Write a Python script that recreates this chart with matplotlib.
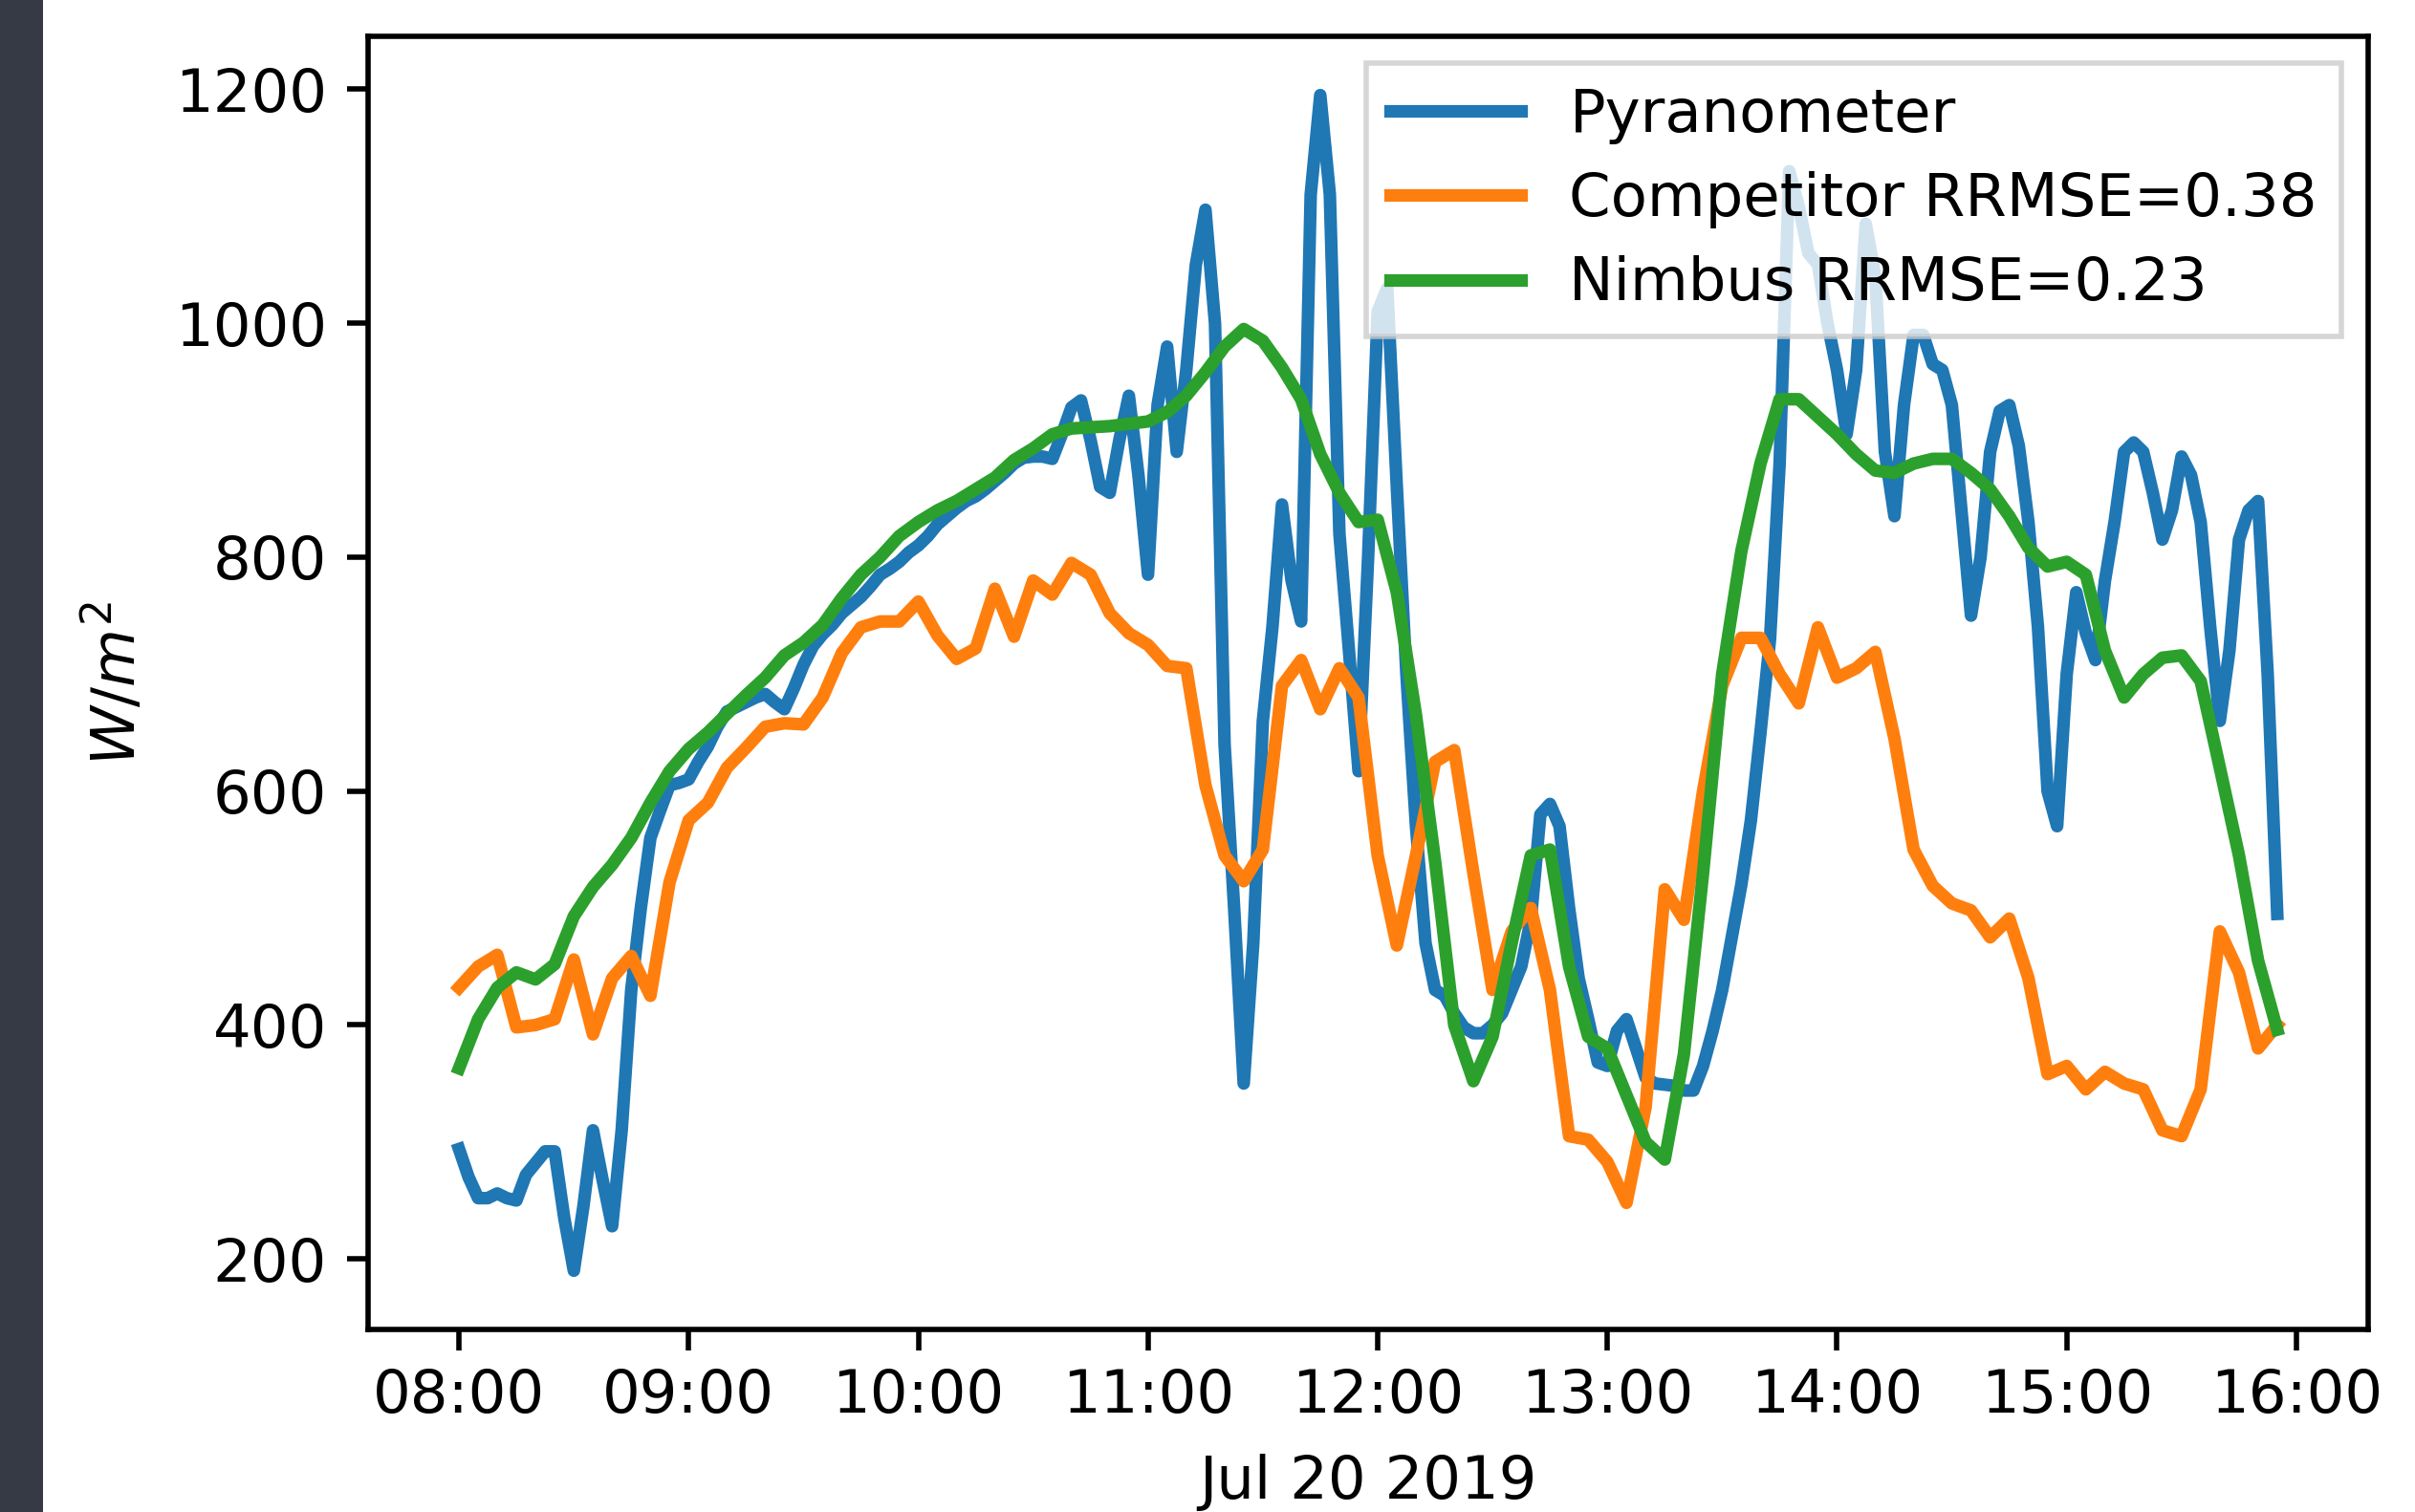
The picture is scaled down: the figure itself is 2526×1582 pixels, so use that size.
import matplotlib
matplotlib.use("Agg")
import matplotlib.pyplot as plt
import matplotlib.dates as mdates
from matplotlib.patches import Rectangle
import pandas as pd

# ---------------- data (W/m^2), Jul 20 2019, starting 08:00 ----------------
# Pyranometer: one reading every 2.5 minutes
pyranometer = [
    294, 270, 252, 252, 256, 252, 250, 272, 282, 292,
    292, 235, 190, 245, 310, 268, 228, 310, 430, 500,
    560, 583, 605, 607, 610, 625, 638, 655, 668, 672,
    676, 680, 683, 676, 670, 688, 708, 724, 734, 742,
    752, 759, 766, 775, 785, 790, 796, 804, 810, 818,
    828, 835, 842, 848, 852, 858, 865, 872, 880, 885,
    886, 886, 884, 905, 928, 934, 900, 860, 855, 900,
    938, 870, 785, 930, 980, 890, 960, 1050, 1097, 1000,
    640, 500, 350, 470, 660, 740, 845, 780, 745, 1110,
    1195, 1110, 820, 720, 617, 800, 1010, 1030, 860, 700,
    570, 470, 430, 425, 410, 398, 393, 393, 400, 410,
    430, 450, 490, 580, 589, 570, 500, 440, 405, 368,
    365, 395, 405, 380, 355, 350, 349, 348, 344, 344,
    365, 395, 430, 475, 520, 575, 650, 730, 880, 1130,
    1100, 1060, 1050, 1000, 960, 905, 960, 1085, 1040, 890,
    835, 930, 990, 990, 965, 960, 930, 840, 750, 800,
    890, 925, 930, 895, 830, 740, 600, 570, 700, 770,
    735, 712, 780, 830, 890, 898, 890, 855, 815, 840,
    886, 870, 830, 740, 660, 720, 815, 840, 848, 700,
    495,
]

# Model estimates: one value every 5 minutes
competitor = [
    432, 450, 460, 398, 400, 405, 456, 392, 440, 459,
    425, 522, 575, 590, 620, 637, 655, 658, 657, 680,
    718, 740, 745, 745, 762, 733, 713, 722, 773, 732,
    780, 768, 795, 785, 752, 735, 725, 707, 705, 605,
    545, 523, 550, 690, 712, 670, 705, 680, 545, 468,
    545, 625, 635, 530, 430, 480, 500, 430, 305, 302,
    283, 248, 330, 516, 490, 600, 690, 731, 731, 700,
    675, 740, 697, 705, 719, 645, 550, 519, 504, 498,
    475, 491, 440, 358, 365, 345, 360, 350, 345, 310,
    305, 345, 480, 445, 380, 400,
]

nimbus = [
    363, 405, 432, 445, 439, 452, 493, 518, 537, 560,
    590, 617, 636, 650, 666, 682, 697, 716, 727, 742,
    765, 785, 800, 818, 830, 840, 848, 858, 868, 883,
    893, 905, 910, 911, 912, 914, 916, 924, 938, 958,
    980, 995, 985, 962, 935, 888, 855, 830, 832, 770,
    665, 540, 400, 352, 390, 470, 545, 550, 450, 390,
    380, 340, 300, 285, 375, 530, 700, 805, 880, 935,
    935, 920, 905, 888, 874, 872, 880, 884, 884, 872,
    858, 835, 808, 792, 796, 785, 720, 680, 700, 714,
    716, 694, 620, 545, 455, 396,
]

labels = ["Pyranometer", "Competitor RRMSE=0.38", "Nimbus RRMSE=0.23"]
colors = ["#1f77b4", "#ff7f0e", "#2ca02c"]

start = pd.Timestamp("2019-07-20 08:00")
pyr_time = pd.date_range(start, periods=len(pyranometer), freq="150s")
comp_time = pd.date_range(start, periods=len(competitor), freq="5min")
nimb_time = pd.date_range(start, periods=len(nimbus), freq="5min")

# ---------------- figure ----------------
W, H = 2526, 1582
fig = plt.figure(figsize=(W / 100, H / 100), dpi=100)
fig.patch.set_facecolor("white")
fig.patches.append(Rectangle((0, 0), 45 / W, 1, transform=fig.transFigure,
                             facecolor="#353a44", edgecolor="none", zorder=-5))

left, right, top, bottom = 385, 2477, 38, 1391
ax = fig.add_axes([left / W, 1 - bottom / H, (right - left) / W, (bottom - top) / H])

FS = 45
LW = 9.5
ax.plot(pyr_time, pyranometer, color=colors[0], lw=LW, label=labels[0])
ax.plot(comp_time, competitor, color=colors[1], lw=LW, label=labels[1])
ax.plot(nimb_time, nimbus, color=colors[2], lw=LW, label=labels[2])

ax.xaxis.set_major_locator(mdates.HourLocator())
ax.xaxis.set_major_formatter(mdates.DateFormatter("%H:%M"))
ax.set_yticks([200, 400, 600, 800, 1000, 1200])

for s in ax.spines.values():
    s.set_linewidth(4)
ax.tick_params(axis="both", length=16, width=4, labelsize=FS)
ax.tick_params(axis="y", pad=15)
ax.tick_params(axis="x", pad=13)

ax.set_ylabel("$W/m^2$", fontsize=FS)
ax.yaxis.set_label_coords(-0.11, 0.5)
ax.set_xlabel("Jul 20 2019", fontsize=FS)
ax.xaxis.set_label_coords(0.5, -0.096)

leg = ax.legend(loc="upper right", fontsize=FS, fancybox=False,
                edgecolor="0.8", framealpha=0.8, handlelength=2.2,
                labelspacing=0.45, borderaxespad=0.45)
leg.get_frame().set_linewidth(4)

fig.savefig("out.png", dpi=100)
